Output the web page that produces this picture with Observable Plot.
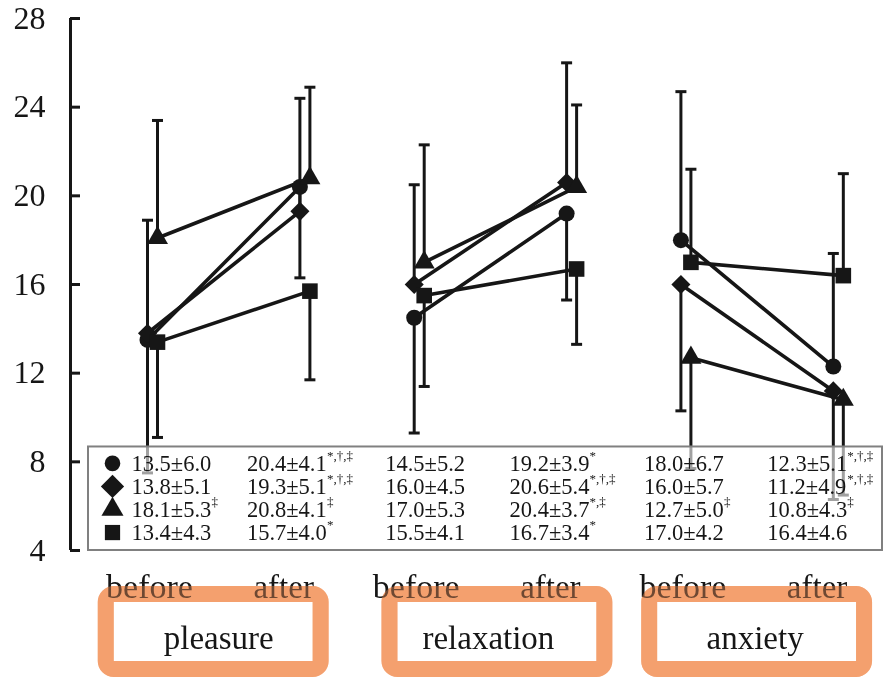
<!DOCTYPE html>
<html>
<head>
<meta charset="utf-8">
<script src="https://cdn.jsdelivr.net/npm/d3@7"></script>
<script src="https://cdn.jsdelivr.net/npm/@observablehq/plot@0.6"></script>
<style>
  body { margin: 0; background: #fff; }
  #chart svg { display: block; }
</style>
</head>
<body>
<div id="chart"></div>
<script>
// ---- data -------------------------------------------------------------
const conditions = ["pleasure", "relaxation", "anxiety"];
const times = ["before", "after"];
const yTicks = [4, 8, 12, 16, 20, 24, 28];

// Mean ± SD per measurement, in the order:
// pleasure before, pleasure after, relaxation before, relaxation after, anxiety before, anxiety after
const circleMean   = [13.5, 20.4, 14.5, 19.2, 18.0, 12.3];
const circleSD     = [6.0, 4.1, 5.2, 3.9, 6.7, 5.1];
const circleSig    = ["", "*,†,‡", "", "*", "", "*,†,‡"];

const diamondMean  = [13.8, 19.3, 16.0, 20.6, 16.0, 11.2];
const diamondSD    = [5.1, 5.1, 4.5, 5.4, 5.7, 4.9];
const diamondSig   = ["", "*,†,‡", "", "*,†,‡", "", "*,†,‡"];

const triangleMean = [18.1, 20.8, 17.0, 20.4, 12.7, 10.8];
const triangleSD   = [5.3, 4.1, 5.3, 3.7, 5.0, 4.3];
const triangleSig  = ["‡", "‡", "", "*,‡", "‡", "‡"];

const squareMean   = [13.4, 15.7, 15.5, 16.7, 17.0, 16.4];
const squareSD     = [4.3, 4.0, 4.1, 3.4, 4.2, 4.6];
const squareSig    = ["", "*", "", "*", "", ""];

// Direction of the one-sided SD bar in each condition (+1 up, -1 down)
const circleBarDir   = [-1, -1, 1];
const diamondBarDir  = [1, 1, -1];
const triangleBarDir = [1, 1, -1];
const squareBarDir   = [-1, -1, 1];

// ---- layout & style ---------------------------------------------------
const ink = "#161616";
const serif = "Liberation Serif, Times New Roman, serif";
const groupStep = 1.75;                 // distance between condition groups (before→after = 1)
const xDomain = [-0.538, 4.803];
const dodge = 5;                        // px shift of left / right series
const tableTop = 8.67;                  // top edge of the value table (y units)
const tableRowY = [7.93, 6.89, 5.85, 4.81];
const tableColDx = [-21, -58, -34, -62, -42, -71];
const supDx = 80;
const condLabelDx = [-10, -7, -7];
const condBoxDx = [-15, 2, -5];
const orange = "rgb(244,160,110)";

const seriesList = [
  {name: "circle",   symbol: "circle",   r: 8,   tableR: 7.8, side: -1, mean: circleMean,   sd: circleSD,   sig: circleSig,   dir: circleBarDir},
  {name: "diamond",  symbol: "diamond2", r: 8.6, tableR: 10.5, side: -1, mean: diamondMean,  sd: diamondSD,  sig: diamondSig,  dir: diamondBarDir},
  {name: "triangle", symbol: "triangle", r: 7.8, tableR: 8.2, side: 1,  mean: triangleMean, sd: triangleSD, sig: triangleSig, dir: triangleBarDir},
  {name: "square",   symbol: "square",   r: 8.8, tableR: 8.6, side: 1,  mean: squareMean,   sd: squareSD,   sig: squareSig,   dir: squareBarDir}
];

const slots = conditions.flatMap((cond, ci) =>
  times.map((time, ti) => ({cond, time, ci, u: ci * groupStep + ti})));

const rows = seriesList.flatMap((s, si) =>
  slots.map((slot, k) => ({
    ...slot,
    series: s.name,
    row: si,
    col: k,
    mean: s.mean[k],
    sd: s.sd[k],
    sig: s.sig[k],
    end: s.mean[k] + s.dir[slot.ci] * s.sd[k],
    label: `${s.mean[k].toFixed(1)}±${s.sd[k].toFixed(1)}`
  })));

const condRows = conditions.map((cond, ci) => ({cond, ci, mid: ci * groupStep + 0.5}));

// horizontal bar used as the error-bar cap
const capSymbol = {
  draw(ctx, size) {
    const w = Math.sqrt(size / Math.PI);
    ctx.moveTo(-w, 0);
    ctx.lineTo(w, 0);
  }
};

// ---- marks ------------------------------------------------------------
const marks = [];

// connecting lines, SD bars, caps and symbols for each series
for (const s of seriesList) {
  const data = rows.filter(d => d.series === s.name);
  const dx = s.side * dodge;
  marks.push(
    Plot.line(data, {x: "u", y: "mean", z: "cond", stroke: ink, strokeWidth: 3.6, dx}),
    Plot.ruleX(data, {x: "u", y1: "mean", y2: "end", stroke: ink, strokeWidth: 3, dx}),
    Plot.dot(data, {x: "u", y: "end", symbol: capSymbol, r: 5.5, stroke: ink, strokeWidth: 3, fill: "none", dx})
  );
}
for (const s of seriesList) {
  const data = rows.filter(d => d.series === s.name);
  marks.push(Plot.dot(data, {x: "u", y: "mean", symbol: s.symbol, r: s.r, fill: ink, dx: s.side * dodge}));
}

// value table
marks.push(
  Plot.rect([0], {y1: 4, y2: tableTop, insetLeft: 18, insetRight: 2, fill: "white", fillOpacity: 0.6, stroke: "#808080", strokeWidth: 2})
);
seriesList.forEach((s, si) => {
  marks.push(Plot.dot([tableRowY[si]], {y: d => d, frameAnchor: "left", dx: 42, symbol: s.symbol, r: s.tableR, fill: ink}));
});
slots.forEach((slot, k) => {
  const data = rows.filter(d => d.col === k);
  marks.push(
    Plot.text(data, {x: "u", y: d => tableRowY[d.row], text: "label", textAnchor: "start", dx: tableColDx[k],
      fontSize: 22.5, fontFamily: serif, fill: ink}),
    Plot.text(data, {x: "u", y: d => tableRowY[d.row], text: "sig", textAnchor: "start", dx: tableColDx[k] + supDx, dy: -8,
      fontSize: 13, fontFamily: serif, fill: ink})
  );
});

// y axis
marks.push(
  Plot.ruleX([xDomain[0]], {stroke: ink, strokeWidth: 3}),
  Plot.axisY({ticks: yTicks, tickSize: -10, tickPadding: 35, strokeWidth: 3, stroke: ink, fill: ink,
    fontSize: 32, fontFamily: serif, label: null})
);

// before / after labels
marks.push(
  Plot.text(slots.filter(d => d.time === "before"), {x: "u", text: "time", frameAnchor: "bottom", lineAnchor: "middle",
    dy: 37, dx: -3, fontSize: 34, fontFamily: serif, fill: ink}),
  Plot.text(slots.filter(d => d.time === "after"), {x: "u", text: "time", frameAnchor: "bottom", lineAnchor: "middle",
    dy: 37, dx: 9, textAnchor: "end", fontSize: 33, fontFamily: serif, fill: ink})
);

// condition labels with highlight boxes (a multiplied layer plus a translucent layer,
// so the labels underneath show through in brown)
for (const c of condRows) {
  const boxOptions = {x1: d => d.mid - 0.705, x2: d => d.mid + 0.705, dx: condBoxDx[c.ci],
    insetTop: 576, insetBottom: -119, rx: 8, fill: "none", stroke: orange, strokeWidth: 16};
  marks.push(
    Plot.text([c], {x: "mid", text: "cond", frameAnchor: "bottom", lineAnchor: "middle", dy: 88, dx: condLabelDx[c.ci],
      fontSize: 33, fontFamily: serif, fill: ink}),
    Plot.rect([c], {...boxOptions, mixBlendMode: "multiply"}),
    Plot.rect([c], {...boxOptions, strokeOpacity: 0.4})
  );
}

const chart = Plot.plot({
  width: 884,
  height: 677,
  marginTop: 18,
  marginBottom: 127,
  marginLeft: 70,
  marginRight: 0,
  style: {fontFamily: serif, background: "white"},
  x: {type: "linear", domain: xDomain, axis: null},
  y: {domain: [4, 28]},
  marks
});

document.getElementById("chart").append(chart);
</script>
</body>
</html>
